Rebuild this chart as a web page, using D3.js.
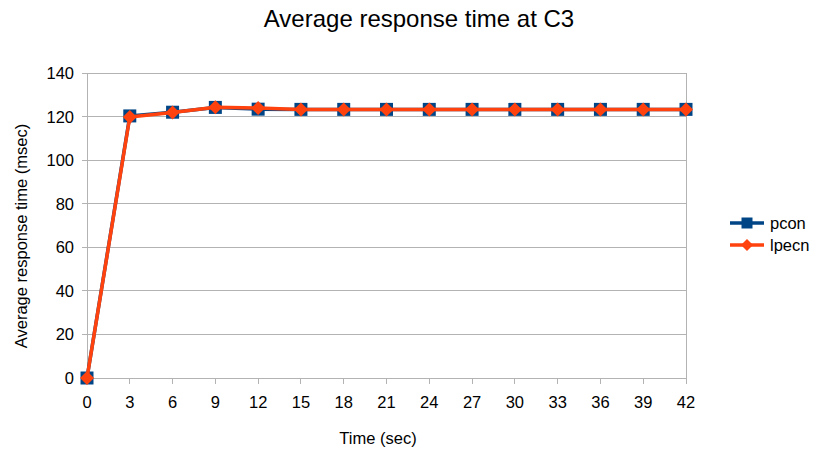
<!DOCTYPE html>
<html><head><meta charset="utf-8">
<script src="https://cdn.jsdelivr.net/npm/d3@7"></script>
<style>body{margin:0;background:#fff;font-family:"Liberation Sans",Arial,sans-serif}</style>
</head><body><svg id="c" width="826" height="451"></svg>
<script>
const times = [0,3,6,9,12,15,18,21,24,27,30,33,36,39,42];
const pcon = [0,120.3,122,124.2,123.4,123.3,123.3,123.3,123.3,123.3,123.3,123.3,123.3,123.3,123.3];
const lpecn = [0,119.8,121.9,124.3,123.9,123.3,123.3,123.3,123.3,123.3,123.3,123.3,123.3,123.3,123.3];
const yTicks = [0,20,40,60,80,100,120,140];
const seriesNames = ["pcon","lpecn"];
const colors = ["#004586","#ff420e"];

const svg = d3.select("#c");
const L=87,R=686,T=73,B=378;
const x = d3.scaleLinear().domain([0,42]).range([L,R]);
const y = d3.scaleLinear().domain([0,140]).range([B,T]);
const g = svg.append("g");
const FS=16.5;
g.selectAll(".gy").data(yTicks).enter().append("line")
 .attr("x1",L).attr("x2",R).attr("y1",d=>y(d)).attr("y2",d=>y(d))
 .attr("stroke","#b3b3b3").attr("stroke-width",1).attr("shape-rendering","crispEdges");
g.append("line").attr("x1",R).attr("x2",R).attr("y1",T).attr("y2",B).attr("stroke","#b3b3b3").attr("shape-rendering","crispEdges");
g.append("line").attr("x1",L).attr("x2",L).attr("y1",T).attr("y2",B).attr("stroke","#b3b3b3").attr("shape-rendering","crispEdges");
g.selectAll(".ty").data(yTicks).enter().append("line")
 .attr("x1",L-5).attr("x2",L).attr("y1",d=>y(d)).attr("y2",d=>y(d))
 .attr("stroke","#b3b3b3").attr("shape-rendering","crispEdges");
g.selectAll(".ly").data(yTicks).enter().append("text")
 .attr("x",L-13).attr("y",d=>y(d)+6).attr("text-anchor","end")
 .attr("font-size",FS).attr("fill","#000").text(d=>d);
g.selectAll(".tx").data(times).enter().append("line")
 .attr("x1",d=>x(d)).attr("x2",d=>x(d)).attr("y1",B).attr("y2",B+6)
 .attr("stroke","#b3b3b3").attr("shape-rendering","crispEdges");
g.selectAll(".lx").data(times).enter().append("text")
 .attr("x",d=>x(d)).attr("y",408).attr("text-anchor","middle")
 .attr("font-size",FS).attr("fill","#000").text(d=>d);
svg.append("text").attr("x",419).attr("y",27).attr("text-anchor","middle").attr("font-size",24).text("Average response time at C3");
svg.append("text").attr("x",378).attr("y",444).attr("text-anchor","middle").attr("font-size",FS).text("Time (sec)");
svg.append("text").attr("transform","translate(27,236) rotate(-90)").attr("text-anchor","middle").attr("font-size",FS).text("Average response time (msec)");

const line = d3.line().x((d,i)=>x(times[i])).y(d=>y(d));
const data=[pcon,lpecn];
const sqPath = s=>`M${-s},${-s}H${s}V${s}H${-s}Z`;
const diPath = s=>`M0,${-s}L${s},0L0,${s}L${-s},0Z`;
data.forEach((s,k)=>{
  svg.append("path").attr("d",line(s)).attr("fill","none").attr("stroke",colors[k]).attr("stroke-width",3.5).attr("stroke-linejoin","round");
  svg.selectAll(".m"+k).data(s).enter().append("path")
   .attr("transform",(d,i)=>`translate(${x(times[i])},${y(d)})`)
   .attr("d",k===0?sqPath(6.5):diPath(7)).attr("fill",colors[k]);
});
seriesNames.forEach((n,k)=>{
  const yy=223+k*22;
  svg.append("line").attr("x1",730).attr("x2",764).attr("y1",yy).attr("y2",yy).attr("stroke",colors[k]).attr("stroke-width",3.5);
  svg.append("path").attr("transform",`translate(747,${yy})`).attr("d",k===0?sqPath(5.5):diPath(6)).attr("fill",colors[k]);
  svg.append("text").attr("x",770).attr("y",yy+6).attr("font-size",FS).text(n);
});
</script></body></html>
